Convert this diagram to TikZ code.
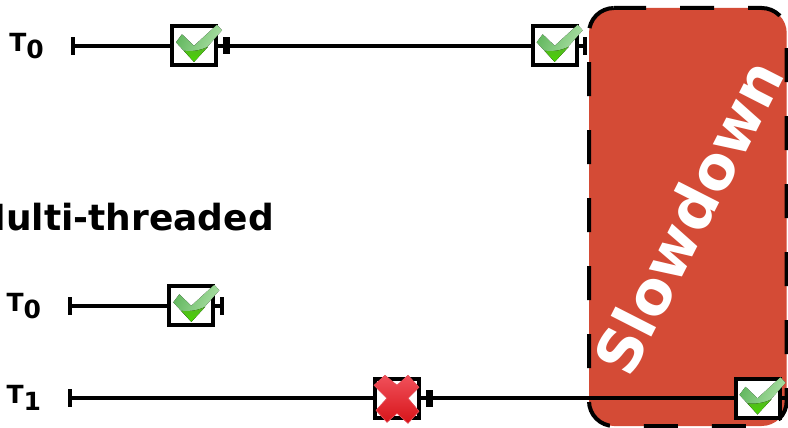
\documentclass[tikz,border=0pt]{standalone}
\usepackage{fontspec}
\setmainfont{DejaVu Sans}
\usetikzlibrary{positioning}
\definecolor{slowred}{RGB}{212,75,54}
\definecolor{oklight}{RGB}{176,226,170}
\definecolor{okmid}{RGB}{100,184,96}
\definecolor{okdark}{RGB}{84,182,36}
\definecolor{okbright}{RGB}{72,214,0}
\definecolor{badlight}{RGB}{240,80,90}
\definecolor{baddark}{RGB}{215,20,25}
\newcommand{\threadname}[1]{T\raisebox{-7pt}{#1}}
\tikzset{
  okmark/.pic={
    \fill[left color=okmid, right color=oklight, shading angle=65]
      (-12,-11.5)--(-18,-3.5)--(0,16)--(28,-15.5)--(23,-21)--(0,0)--cycle;
    \fill[top color=okdark, bottom color=okbright]
      (-10,5)..controls (-3,6) and (6,5) .. (14,1)--(0,16)--cycle;
  },
  badmark/.pic={
    \fill[top color=badlight, bottom color=baddark, draw=badlight, line width=0.6pt]
      (-12,-23)--(-23,-13)--(-10,0)--(-21,12)--(-10,24)--(0,15)--(11,25)
      --(22,13)--(11,0)--(22,-11)--(11,-23)--(0,-13)--cycle;
  }
}
\begin{document}
\begin{tikzpicture}[x=1pt, y=-1pt,
  lbl/.style={font=\fontsize{25}{25}\selectfont\bfseries, inner sep=0pt},
  head/.style={font=\fontsize{36}{36}\selectfont\bfseries, inner sep=0pt},
  slowtxt/.style={font=\fontsize{60}{60}\selectfont\bfseries, text=white, inner sep=0pt, rotate=63},
  zone/.style={fill=slowred, rounded corners=25pt, minimum width=197.7pt, minimum height=418pt,
               inner sep=0pt, outer sep=0pt},
  zoneline/.style={draw=black, line width=4pt, rounded corners=25pt, dash pattern=on 34pt off 34pt, dash phase=2pt},
  task/.style={draw=black, fill=white, line width=4pt, minimum width=44pt, minimum height=39pt, inner sep=0pt},
  bar/.style={fill=black, minimum width=4pt, minimum height=18pt, inner sep=0pt, outer sep=0pt},
  fatbar/.style={fill=black, minimum width=7pt, minimum height=17pt, inner sep=0pt, outer sep=0pt},
  arr/.style={line width=4pt, color=black}]
\clip (0,0) rectangle (788,428);
\node[zone] (slow) at (687.85,217) {};
\draw[zoneline] ([xshift=25pt]slow.north west)--(slow.north east)--(slow.south east)--(slow.south west)--(slow.north west)--([xshift=25pt]slow.north west);
\node[slowtxt] (slowlbl) at (688,217) {Slowdown};
\node[head, anchor=base east] (title) at (274,230) {Multi-threaded};

\node[bar] (s0) at (73,45.8) {};
\node[lbl, left=27pt of s0] (l0) {\threadname{0}};
\node[task, right=95pt of s0] (c0) {};
\node[fatbar, right=4.7pt of c0] (f0) {};
\node[task, right=301pt of f0] (c0b) {};
\node[bar, right=4pt of c0b] (e0) {};
\draw[arr] (s0)--(c0); \draw[arr] (c0)--(f0); \draw[arr] (f0)--(c0b); \draw[arr] (c0b)--(e0);

\node[bar] (s1) at (70.3,305.8) {};
\node[lbl, left=27pt of s1] (l1) {\threadname{0}};
\node[task, right=95pt of s1] (c1) {};
\node[bar, right=4.7pt of c1] (e1) {};
\draw[arr] (s1)--(c1); \draw[arr] (c1)--(e1);

\node[bar] (s2) at (70.3,398.3) {};
\node[lbl, left=27pt of s2] (l2) {\threadname{1}};
\node[task, right=300.7pt of s2] (c2) {};
\node[fatbar, right=4.7pt of c2] (f2) {};
\node[task, right=300.8pt of f2] (c2b) {};
\node[bar, right=3.2pt of c2b] (e2) {};
\draw[arr] (s2)--(c2); \draw[arr] (c2)--(f2); \draw[arr] (f2)--(c2b); \draw[arr] (c2b)--(e2);

\pic at (c0) {okmark};
\pic at (c0b) {okmark};
\pic at (c1) {okmark};
\pic at (c2) {badmark};
\pic at (c2b) {okmark};
\end{tikzpicture}
\end{document}
